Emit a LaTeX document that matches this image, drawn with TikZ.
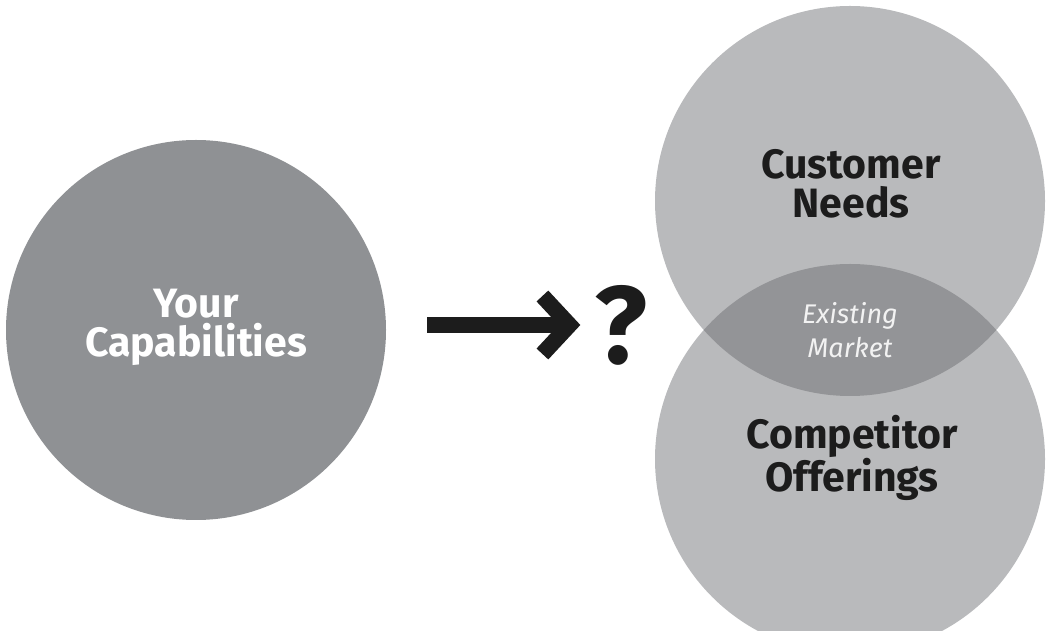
\documentclass[tikz,border=0pt]{standalone}
\usepackage{fontspec}
\setmainfont{Fira Sans}
\usetikzlibrary{arrows.meta,positioning}

\definecolor{capgray}{HTML}{8F9194}
\definecolor{setgray}{HTML}{B9BABC}
\definecolor{lensgray}{HTML}{939497}
\definecolor{inkblack}{HTML}{1C1C1C}

\begin{document}
\begin{tikzpicture}[x=1pt,y=1pt,
    disc/.style={circle, inner sep=0pt, minimum size=#1},
    bigtxt/.style={align=center, inner sep=0pt, font=\bfseries\fontsize{41}{39}\selectfont},
    smalltxt/.style={align=center, inner sep=0pt, text=white!95!black, font=\itshape\fontsize{27}{34}\selectfont},
    bigarrow/.style={line width=16pt, inkblack, -{Straight Barb[length=27pt, width=58pt]}}]

    \useasboundingbox (0,0) rectangle (1051,631);
    \clip (0,0) rectangle (1051,631);

    % circles
    \node[disc=380pt, fill=capgray](caps) at (196,301){};
    \node[disc=390pt, fill=setgray](needs) at (850,430){};
    \node[disc=390pt, fill=setgray](offers) at (850,172){};

    % overlap of the two sets
    \begin{scope}
        \clip (needs.center) circle (195);
        \fill[lensgray] (offers.center) circle (195);
    \end{scope}

    % labels
    \node[bigtxt, text=white] (capstxt) at (196,304){Your\\Capabilities};
    \node[bigtxt, text=inkblack] (needstxt) at (851,447){Customer\\Needs};
    \node[bigtxt, text=inkblack] (offerstxt) at (852,173){Competitor\\Offerings};
    \node[smalltxt] (market) at (850,301){Existing\\Market};

    \node[inner sep=0pt, text=inkblack, font=\bfseries\fontsize{110}{110}\selectfont](qm) at (621,306){?};
    \coordinate (tail) at (427,306);
    \draw[bigarrow, shorten >=14pt] (tail) -- (qm.west);

\end{tikzpicture}
\end{document}
